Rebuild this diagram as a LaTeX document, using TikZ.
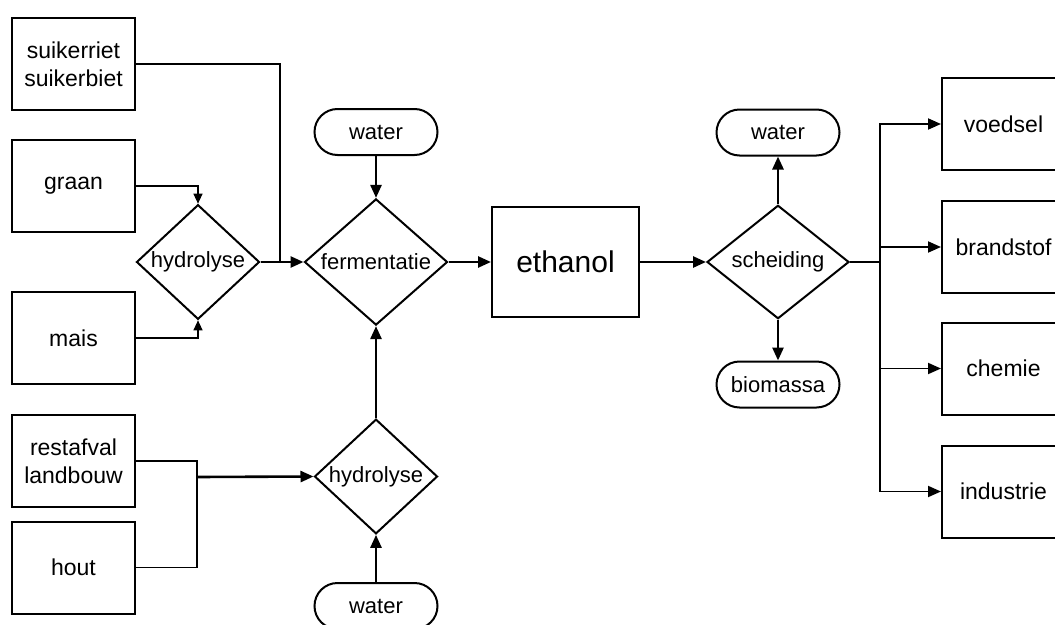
\documentclass[tikz,border=0pt]{standalone}
\usepackage{fontspec}
\setmainfont{Liberation Sans}
\usetikzlibrary{arrows.meta,shapes.geometric}

\begin{document}
\begin{tikzpicture}[>={Triangle[length=13pt,width=11pt]},x=1pt,y=-1pt]
  \tikzset{
    box/.style={draw,line width=2pt,minimum width=123pt,minimum height=92pt,
      align=center,font=\fontsize{23}{28}\selectfont},
    proc/.style={draw,diamond,line width=2pt,inner sep=0pt,
      font=\fontsize{22}{25}\selectfont},
    oval/.style={draw,line width=2pt,rounded corners=23pt,minimum width=123pt,
      minimum height=46pt,font=\fontsize{22}{25}\selectfont},
    flow/.style={->,line width=2.6pt},
    feed/.style={line width=1.9pt},
    thinflow/.style={-{Triangle[length=10pt,width=9pt]},line width=1.2pt}
  }
  \useasboundingbox (0,0) rectangle (1055,624);

  % raw materials
  \node[box] (suiker) at (73.5,64) {suikerriet\\suikerbiet};
  \node[box] (graan) at (73.5,186) {graan};
  \node[box] (mais) at (73.5,338) {mais};
  \node[box] (rest) at (73.5,461) {restafval\\landbouw};
  \node[box] (hout) at (73.5,567.5) {hout};

  % processes
  \node[proc,minimum width=123pt,minimum height=90pt] (hydA) at (198,262) {hydrolyse};
  \node[proc,minimum width=143pt,minimum height=106pt] (ferm) at (376,262) {fermentatie};
  \node[proc,minimum width=123pt,minimum height=91pt] (hydB) at (376,476.5) {hydrolyse};
  \node[proc,minimum width=142pt,minimum height=106pt] (scheid) at (778,262) {scheiding};
  \node[box,minimum width=147pt,minimum height=110pt,font=\fontsize{30}{34}\selectfont]
    (ethanol) at (565.5,262) {ethanol};

  \node[oval] (waterA) at (376,132) {water};
  \node[oval] (waterC) at (376,606) {water};
  \node[oval] (waterB) at (778,132.5) {water};
  \node[oval] (bio) at (778,384.5) {biomassa};

  % products
  \node[box] (voedsel) at (1003.5,124) {voedsel};
  \node[box] (brand) at (1003.5,247) {brandstof};
  \node[box] (chemie) at (1003.5,368.5) {chemie};
  \node[box] (industrie) at (1003.5,491.5) {industrie};

  \coordinate (joinA) at (280,262);
  \coordinate (joinB) at (197,477);
  \coordinate (bus) at (880,262);

  \draw[feed] (suiker.east) -| (joinA);
  \draw[thinflow] (graan.east) -| (hydA.north);
  \draw[thinflow] (mais.east) -| (hydA.south);
  \draw[flow] (hydA.east) -- (ferm.west);
  \draw[flow] (waterA.south) -- (ferm.north);
  \draw[flow] (hydB.north) -- (ferm.south);
  \draw[flow] (waterC.north) -- (hydB.south);
  \draw[feed] (rest.east) -| (joinB) |- (hout.east);
  \draw[flow] (joinB) -- (hydB.west);
  \draw[flow] (ferm.east) -- (ethanol.west);
  \draw[flow] (ethanol.east) -- (scheid.west);
  \draw[flow] (scheid.north) -- (waterB.south);
  \draw[flow] (scheid.south) -- (bio.north);
  \draw[line width=2.8pt] (scheid.east) -- (bus);
  \foreach \p in {voedsel,brand,chemie,industrie}
    \draw[feed,->] (bus) |- (\p.west);
\end{tikzpicture}
\end{document}
